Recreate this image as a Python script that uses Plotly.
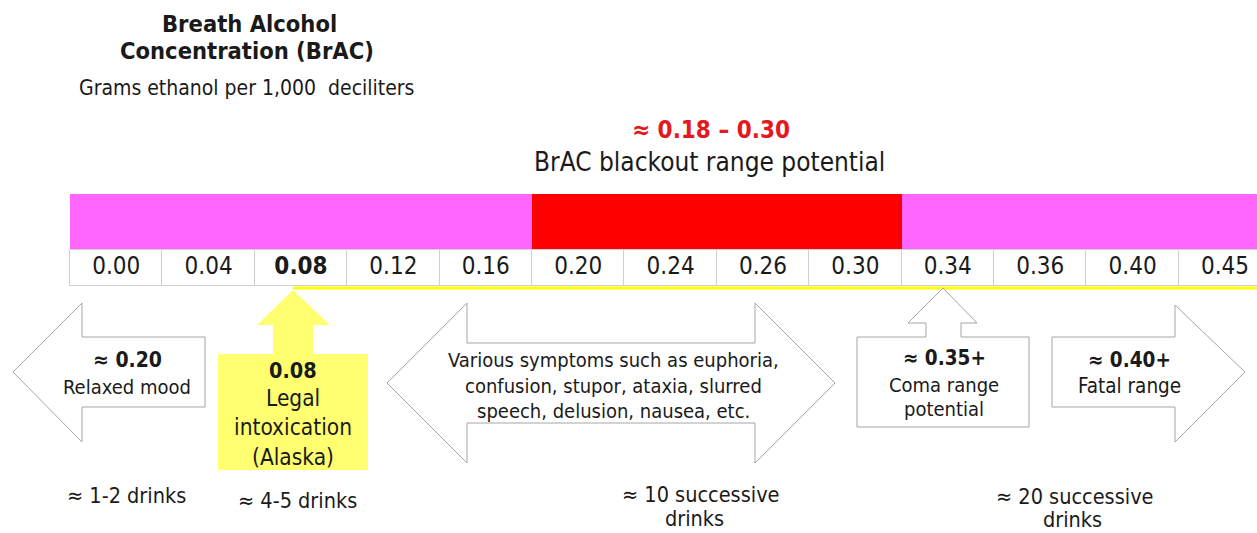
import plotly.graph_objects as go

# ---------------- data ----------------
title_lines = ["Breath Alcohol", "Concentration (BrAC)"]
subtitle = "Grams ethanol per 1,000  deciliters"
brac_ticks = ["0.00", "0.04", "0.08", "0.12", "0.16", "0.20", "0.24",
              "0.26", "0.30", "0.34", "0.36", "0.40", "0.45"]
bold_tick = "0.08"
band_colors = ["#FF66FF"] * 5 + ["#FF0000"] * 4 + ["#FF66FF"] * 4
blackout_value = "≈ 0.18 – 0.30"
blackout_label = "BrAC blackout range potential"
drinks_labels = [["≈ 1-2 drinks"], ["≈ 4-5 drinks"], ["≈ 10 successive", "drinks"],
                 ["≈ 20 successive", "drinks"]]

W, H = 1257, 533
FONT = "DejaVu Sans Condensed, DejaVu Sans, sans-serif"
INK = "#1a1a1a"
CELL0, CELLW = 70, 92.4          # pixel geometry of the scale row
n = len(brac_ticks)
idx = [i + 0.5 for i in range(n)]

fig = go.Figure()

# colored band (bars on the cell scale)
fig.add_trace(go.Bar(x=idx, y=[56] * n, base=[194] * n, width=1,
                     marker=dict(color=band_colors, line=dict(width=0)),
                     hoverinfo="skip", showlegend=False))
# white cells with labels
fig.add_trace(go.Bar(x=idx, y=[36] * n, base=[250] * n, width=1,
                     marker=dict(color="white", line=dict(color="#d0d0d0", width=1)),
                     hoverinfo="skip", showlegend=False))
fig.add_trace(go.Scatter(
    x=idx, y=[268] * n, mode="text",
    text=[f"<b>{t}</b>" if t == bold_tick else t for t in brac_ticks],
    textfont=dict(family=FONT, size=24, color=INK),
    hoverinfo="skip", showlegend=False))

def P(x, y):
    return f"{x / W:.5f},{y:.2f}"

def path(pts):
    return "M " + " L ".join(P(x, y) for x, y in pts) + " Z"

shapes = []
# yellow line under the scale
shapes.append(dict(type="line", xref="paper", yref="y", x0=293 / W, x1=1.0,
                   y0=288, y1=288, line=dict(color="#FFFF00", width=3)))

outline = dict(color="#a6a6a6", width=1)
# left arrow (relaxed mood)
shapes.append(dict(type="path", xref="paper", yref="y", fillcolor="white", line=outline,
                   path=path([(13, 372), (82, 303), (82, 337), (205, 337), (205, 407),
                              (82, 407), (82, 442)])))
# yellow up arrow + box (legal intoxication)
shapes.append(dict(type="path", xref="paper", yref="y", fillcolor="#FFFF70",
                   line=dict(width=0),
                   path=path([(293, 290), (330, 325), (313, 325), (313, 354), (368, 354),
                              (368, 470), (218, 470), (218, 354), (273, 354), (273, 325),
                              (257, 325)])))
# double arrow (various symptoms)
shapes.append(dict(type="path", xref="paper", yref="y", fillcolor="white", line=outline,
                   path=path([(387, 383), (467, 303), (467, 343), (755, 343), (755, 303),
                              (835, 383), (755, 463), (755, 423), (467, 423), (467, 463)])))
# coma up arrow + box
shapes.append(dict(type="path", xref="paper", yref="y", fillcolor="white", line=outline,
                   path=path([(943, 288), (977, 323), (961, 323), (961, 337), (1029, 337),
                              (1029, 427), (857, 427), (857, 337), (926, 337), (926, 323),
                              (908, 323)])))
# right arrow (fatal range)
shapes.append(dict(type="path", xref="paper", yref="y", fillcolor="white", line=outline,
                   path=path([(1052, 337), (1175, 337), (1175, 305), (1245, 372),
                              (1175, 442), (1175, 407), (1052, 407)])))

ann = []
def T(x, y, text, size, color=INK, bold=False):
    ann.append(dict(xref="paper", yref="y", x=x / W, y=y, text=(f"<b>{text}</b>" if bold else text),
                    showarrow=False, xanchor="center", yanchor="middle", align="center",
                    font=dict(family=FONT, size=size, color=color)))

T(249, 24, title_lines[0], 23.5, bold=True)
T(247, 51, title_lines[1], 23.5, bold=True)
T(246, 88, subtitle, 21)
T(711, 130, blackout_value, 24, color="#E5181E", bold=True)
T(709, 162, blackout_label, 26)

T(127, 360, "≈ 0.20", 21, bold=True)
T(127, 387, "Relaxed mood", 20)
T(293, 370, "0.08", 21.5, bold=True)
T(293, 398, "Legal", 22.5)
T(293, 427, "intoxication", 22.5)
T(293, 457, "(Alaska)", 22.5)
T(613, 360, "Various symptoms such as euphoria,", 20)
T(613, 386, "confusion, stupor, ataxia, slurred", 20)
T(613, 411, "speech, delusion, nausea, etc.", 20)
T(944, 358, "≈ 0.35+", 20.5, bold=True)
T(944, 385, "Coma range", 20)
T(944, 409, "potential", 20)
T(1129, 360, "≈ 0.40+", 20.5, bold=True)
T(1129, 386, "Fatal range", 20.5)

drink_pos = [[(126, 495)], [(297, 500)], [(701, 494), (694, 518)], [(1075, 496), (1072, 519)]]
for lines, poss in zip(drinks_labels, drink_pos):
    for txt, (px, py) in zip(lines, poss):
        T(px, py, txt, 21.5)

fig.update_layout(
    width=W, height=H, margin=dict(l=0, r=0, t=0, b=0),
    paper_bgcolor="white", plot_bgcolor="white", bargap=0, barmode="overlay",
    xaxis=dict(range=[-CELL0 / CELLW, (W - CELL0) / CELLW], visible=False, fixedrange=True),
    yaxis=dict(range=[H, 0], visible=False, fixedrange=True),
    shapes=shapes, annotations=ann, showlegend=False,
)

fig.write_html("out.html", config={"displayModeBar": False},
               post_script="document.body.style.margin='0';document.body.style.overflow='hidden';")
